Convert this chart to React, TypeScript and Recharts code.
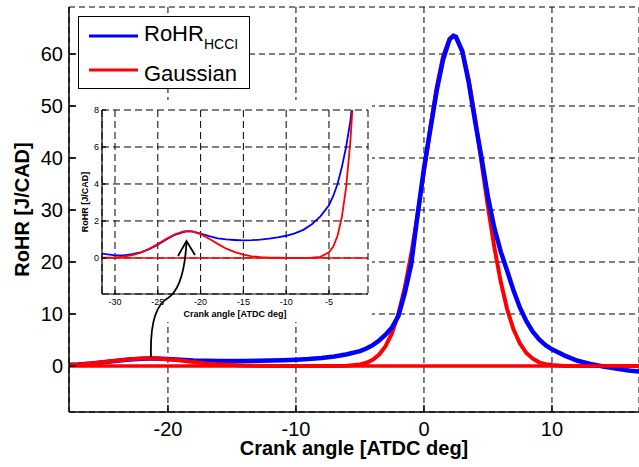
import { LineChart, Line, XAxis, YAxis, CartesianGrid, ReferenceLine } from "recharts";

// measured rate of heat release (HCCI)
const angle = [
  -31.5, -30, -29, -28, -27, -26, -25, -24, -23, -22,
  -21.5, -21, -20, -19, -18, -17, -16, -15, -14, -13,
  -12, -11, -10, -9, -8, -7, -6, -5, -4.5, -4,
  -3.5, -3, -2.5, -2, -1.5, -1, -0.5, 0, 0.5, 1,
  1.5, 2, 2.3, 2.5, 3, 3.5, 4, 4.5, 5, 5.5,
  6, 6.5, 7, 7.5, 8, 8.5, 9, 9.5, 10, 11,
  12, 13, 14, 15, 16, 17,
];
const rohrHCCI = [
  0.23, 0.14, 0.14, 0.2, 0.3, 0.48, 0.72, 1.0, 1.25, 1.4,
  1.45, 1.44, 1.32, 1.18, 1.06, 1.0, 0.97, 0.95, 0.96, 0.99,
  1.04, 1.11, 1.2, 1.33, 1.52, 1.82, 2.25, 2.85, 3.35, 4.0,
  4.9, 6.0, 7.4, 9.6, 14, 19.5, 29, 38, 45.5, 53,
  59, 62.8, 63.5, 63.3, 60.5, 54.5, 47, 40, 32.5, 26.5,
  22, 18.3, 14.5, 11.2, 8.6, 6.6, 5.1, 4.0, 3.2, 2.0,
  1.0, 0.4, -0.1, -0.5, -0.85, -1.1,
];

// gaussian fit: early (cool flame) bump
const preAngle = [
  -31.5, -30, -29, -28, -27, -26, -25, -24, -23, -22, -21.5, -21, -20,
  -19, -18, -17, -16, -15, -14, -13, -12, -11, -10, -9, -8,
];
const preGauss = [
  0.01, 0.03, 0.07, 0.15, 0.28, 0.49, 0.75, 1.03, 1.28, 1.43, 1.45, 1.43, 1.29,
  1.04, 0.76, 0.5, 0.31, 0.18, 0.09, 0.04, 0.02, 0.01, 0, 0, 0,
];

// gaussian fit: main combustion
const mainAngle = [
  -8, -7, -6, -5, -4.5, -4, -3.5, -3, -2.5, -2, -1.5, -1, -0.5, 0, 0.5,
  1, 1.5, 2, 2.3, 2.5, 3, 3.5, 4, 4.5, 5, 5.5, 6, 6.5, 7, 7.5,
  8, 8.5, 9, 9.5, 10, 11, 12, 13, 14, 15, 16, 17,
];
const mainGauss = [
  0, 0.01, 0.06, 0.31, 0.62, 1.2, 2.2, 3.8, 6.3, 10.0, 15.0, 21.4, 29.0, 37.4, 45.9,
  53.6, 59.6, 62.9, 63.5, 63.2, 60.5, 55.0, 47.6, 39.1, 30.6, 22.8, 16.2, 10.9, 7.0, 4.3,
  2.5, 1.4, 0.7, 0.36, 0.17, 0.02, 0, 0, 0, 0, 0, 0,
];

const mainXTicks = [-20, -10, 0, 10];
const mainYTicks = [0, 10, 20, 30, 40, 50, 60];
const insetXTicks = [-30, -25, -20, -15, -10, -5];
const insetYTicks = [0, 2, 4, 6, 8];

const hcciRows = angle.map((x, i) => ({ x, y: rohrHCCI[i] }));
const preRows = preAngle.map((x, i) => ({ x, y: preGauss[i] }));
const mainRows = mainAngle.map((x, i) => ({ x, y: mainGauss[i] }));

const FONT = '"Liberation Sans", Arial, Helvetica, sans-serif';
const BLUE = "#0000ff";
const RED = "#ff0000";

const App = () => {
  const mainX: [number, number] = [-27.73, 16.8];
  const mainY: [number, number] = [-8.85, 69.04];
  const insetX: [number, number] = [-31.52, -0.44];
  const insetY: [number, number] = [-1.95, 8];

  return (
    <div style={{ position: "absolute", left: 0, top: 0, width: 639, height: 467, background: "#fff", fontFamily: FONT, overflow: "hidden" }}>
      <LineChart width={639} height={467} margin={{ top: 7, right: 0, left: 0, bottom: 0 }} style={{ fontFamily: FONT }}>
        <CartesianGrid stroke="#000" strokeDasharray="6 4" strokeWidth={1} />
        <XAxis dataKey="x" type="number" domain={mainX} ticks={mainXTicks} allowDataOverflow height={55}
          stroke="#000" strokeWidth={1.5} tickSize={-7} tickMargin={17}
          tick={{ fill: "#000", fontSize: 20 }}
          label={{ value: "Crank angle [ATDC deg]", position: "insideBottom", offset: 12, style: { fontWeight: "bold", fontSize: 20, fill: "#000" } }} />
        <XAxis xAxisId="top" orientation="top" dataKey="x" type="number" domain={mainX} ticks={mainXTicks} allowDataOverflow height={0}
          stroke="#000" strokeWidth={1.5} tickSize={-7} tick={false} />
        <YAxis type="number" domain={mainY} ticks={mainYTicks} allowDataOverflow width={69}
          stroke="#000" strokeWidth={1.5} tickSize={-7} tickMargin={13}
          tick={{ fill: "#000", fontSize: 20 }}
          label={{ value: "RoHR [J/CAD]", angle: -90, position: "insideLeft", offset: 22, style: { textAnchor: "middle", fontWeight: "bold", fontSize: 20, fill: "#000" } }} />
        <Line data={mainRows} dataKey="y" stroke={RED} strokeWidth={4} dot={false} activeDot={false} isAnimationActive={false} />
        <Line data={hcciRows} dataKey="y" stroke={BLUE} strokeWidth={4.5} dot={false} activeDot={false} isAnimationActive={false} />
        <Line data={preRows} dataKey="y" stroke={RED} strokeWidth={4} dot={false} activeDot={false} isAnimationActive={false} />
        <ReferenceLine y={0} stroke={RED} strokeWidth={3.5} />
      </LineChart>

      {/* inset zoom on the early heat release */}
      <div style={{ position: "absolute", left: 77, top: 100, width: 295, height: 222, background: "#fff" }}>
        <LineChart width={295} height={222} margin={{ top: 10, right: 4, left: 0, bottom: 0 }} style={{ fontFamily: FONT }}>
          <CartesianGrid stroke="#000" strokeDasharray="7 4" strokeWidth={1} />
          <XAxis dataKey="x" type="number" domain={insetX} ticks={insetXTicks} allowDataOverflow height={28}
            stroke="#000" strokeWidth={1.2} tickSize={-4} tickMargin={9}
            tick={{ fill: "#000", fontSize: 9 }}
            label={{ value: "Crank angle [ATDC deg]", position: "insideBottom", offset: 5, style: { fontWeight: "bold", fontSize: 9, fill: "#000" } }} />
          <XAxis xAxisId="top" orientation="top" dataKey="x" type="number" domain={insetX} allowDataOverflow height={0}
            stroke="#000" strokeWidth={1.2} tickLine={false} tick={false} />
          <YAxis type="number" domain={insetY} ticks={insetYTicks} allowDataOverflow width={25}
            stroke="#000" strokeWidth={1.2} tickSize={-4} tickMargin={7}
            tick={{ fill: "#000", fontSize: 9 }}
            label={{ value: "RoHR [J/CAD]", angle: -90, position: "insideLeft", offset: 8, style: { textAnchor: "middle", fontWeight: "bold", fontSize: 9, fill: "#000" } }} />
          <YAxis yAxisId="right" orientation="right" type="number" domain={insetY} allowDataOverflow width={0}
            stroke="#000" strokeWidth={1.2} tickLine={false} tick={false} />
          <Line data={hcciRows} dataKey="y" stroke={BLUE} strokeWidth={1.8} dot={false} activeDot={false} isAnimationActive={false} />
          <Line data={preRows} dataKey="y" stroke={RED} strokeWidth={1.8} dot={false} activeDot={false} isAnimationActive={false} />
          <Line data={mainRows} dataKey="y" stroke={RED} strokeWidth={1.8} dot={false} activeDot={false} isAnimationActive={false} />
          <ReferenceLine y={0} stroke={RED} strokeWidth={1.5} />
        </LineChart>
      </div>

      {/* legend + arrow annotation */}
      <svg width={639} height={467} style={{ position: "absolute", left: 0, top: 0, pointerEvents: "none" }}>
        <rect x={78.5} y={16.5} width={171} height={72} fill="#fff" stroke="#000" strokeWidth={1} />
        <line x1={89} x2={138} y1={36} y2={36} stroke={BLUE} strokeWidth={3} />
        <line x1={89} x2={138} y1={70} y2={70} stroke={RED} strokeWidth={3} />
        <text x={144} y={41} fontSize={22} fontFamily={FONT} fill="#000">
          RoHR<tspan fontSize={14} dy={8}>HCCI</tspan>
        </text>
        <text x={144} y={81} fontSize={22} fontFamily={FONT} fill="#000">Gaussian</text>
        <path d="M151 357 C 150 325, 155 305, 168 298 C 180 290, 185 270, 186.5 242" fill="none" stroke="#000" strokeWidth={1.8} />
        <path d="M178 256 L186.5 241 L195 255" fill="none" stroke="#000" strokeWidth={1.8} />
      </svg>
    </div>
  );
};

export default App;
